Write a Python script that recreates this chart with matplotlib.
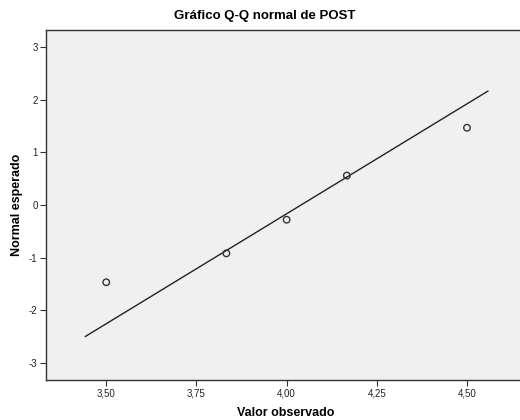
import matplotlib
matplotlib.use("Agg")
import matplotlib.pyplot as plt
import numpy as np

# Data
observed = [3.50, 3.833, 4.00, 4.167, 4.50]
expected = [-1.47, -0.92, -0.28, 0.56, 1.47]
line_x = [3.442, 4.558]
mean_val = 4.04
sd_val = 0.239
xticks = [3.50, 3.75, 4.00, 4.25, 4.50]
xticklabels = ["3,50", "3,75", "4,00", "4,25", "4,50"]
yticks = [-3, -2, -1, 0, 1, 2, 3]
yticklabels = ["-3", "-2", "-1", "0", "1", "2", "3"]

plt.rcParams['font.family'] = ['Liberation Sans', 'DejaVu Sans']

W, H = 520, 420
fig = plt.figure(figsize=(W/100, H/100), dpi=100)
ax = fig.add_axes([46/W, 40/H, (W-46)/W, 350/H])
ax.set_facecolor('#f0f0f0')

ly = [(x - mean_val) / sd_val for x in line_x]
ax.plot(line_x, ly, color='#222222', lw=1.0)
ax.scatter(observed, expected, s=22, facecolors='none', edgecolors='#333333', linewidths=1.0, zorder=3)

ax.set_xlim(3.333, 4.647)
ax.set_ylim(-3.33, 3.33)
ax.set_xticks(xticks)
ax.set_xticklabels(xticklabels)
ax.set_yticks(yticks)
ax.set_yticklabels(yticklabels)
ax.tick_params(axis='both', direction='out', length=4, width=0.8, colors='#333333', labelsize=7, labelcolor='#222222', pad=2)
for s in ['left', 'bottom', 'top']:
    ax.spines[s].set_color('#333333')
    ax.spines[s].set_linewidth(1.0)
ax.spines['right'].set_visible(False)

fig.text(265/W, 1 - 16/H, "Gráfico Q-Q normal de POST", ha='center', va='center', fontsize=9.5, fontweight='bold')
fig.text(286/W, 1 - 413/H, "Valor observado", ha='center', va='center', fontsize=9, fontweight='bold')
fig.text(17/W, 1 - 205/H, "Normal esperado", ha='center', va='center', rotation=90, fontsize=9, fontweight='bold')

fig.savefig("out.png", dpi=100, facecolor='white')
